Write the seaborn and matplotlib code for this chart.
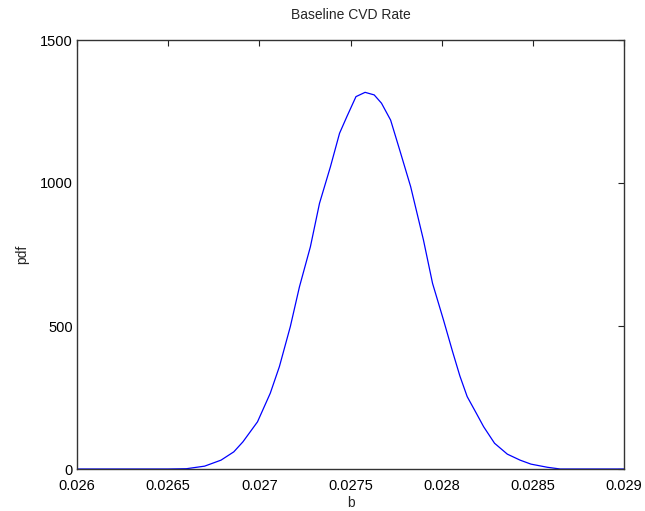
import pandas as pd
import matplotlib
matplotlib.use('Agg')
import matplotlib.pyplot as plt
import seaborn as sns

# values
b_vals = [0.0260, 0.0265, 0.02660, 0.02670, 0.02679, 0.02686, 0.02691, 0.02699,
          0.02706, 0.02711, 0.02717, 0.02722, 0.02728, 0.02733, 0.02739, 0.02744,
          0.02748, 0.02753, 0.02758, 0.02763, 0.02767, 0.02772, 0.02777, 0.02783,
          0.02790, 0.02795, 0.02801, 0.02806, 0.02810, 0.02814, 0.02819, 0.02823,
          0.02829, 0.02836, 0.02843, 0.02849, 0.02858, 0.02865, 0.0290]
pdf_vals = [0, 0, 1, 10, 31, 60, 95, 165, 265, 358, 498, 637, 777, 929, 1057, 1174,
            1232, 1302, 1317, 1308, 1279, 1220, 1115, 987, 801, 649, 521, 410, 325,
            253, 195, 148, 90, 52, 31, 17, 6, 0, 0]

x_ticks = [0.026, 0.0265, 0.027, 0.0275, 0.028, 0.0285, 0.029]
x_tick_labels = ['0.026', '0.0265', '0.027', '0.0275', '0.028', '0.0285', '0.029']
y_ticks = [0, 500, 1000, 1500]

df = pd.DataFrame({'b': b_vals, 'pdf': pdf_vals})

sns.set_style("white")
plt.rcParams['font.family'] = ['Liberation Sans', 'DejaVu Sans']

fig = plt.figure(figsize=(6.45, 5.11), dpi=100)
ax = fig.add_axes([77 / 645, 42 / 511, 547 / 645, 429 / 511])

sns.lineplot(data=df, x='b', y='pdf', color='#0000ff', linewidth=0.9, ax=ax)

ax.set_xlim(0.026, 0.029)
ax.set_ylim(0, 1500)
ax.set_xticks(x_ticks)
ax.set_xticklabels(x_tick_labels)
ax.set_yticks(y_ticks)
ax.tick_params(direction='in', length=4, width=0.8, colors='#222222',
               labelcolor='black', labelsize=10.5, top=True, right=True)
ax.tick_params(axis='x', pad=7)
ax.tick_params(axis='y', pad=3)
for s in ax.spines.values():
    s.set_visible(True)
    s.set_color('#333333')
    s.set_linewidth(1.0)

ax.set_title('Baseline CVD Rate', fontsize=10, pad=15)
ax.set_xlabel('b', fontsize=10, labelpad=2)
ax.set_ylabel('pdf', fontsize=10, labelpad=8)

fig.savefig('out.png', dpi=100)
